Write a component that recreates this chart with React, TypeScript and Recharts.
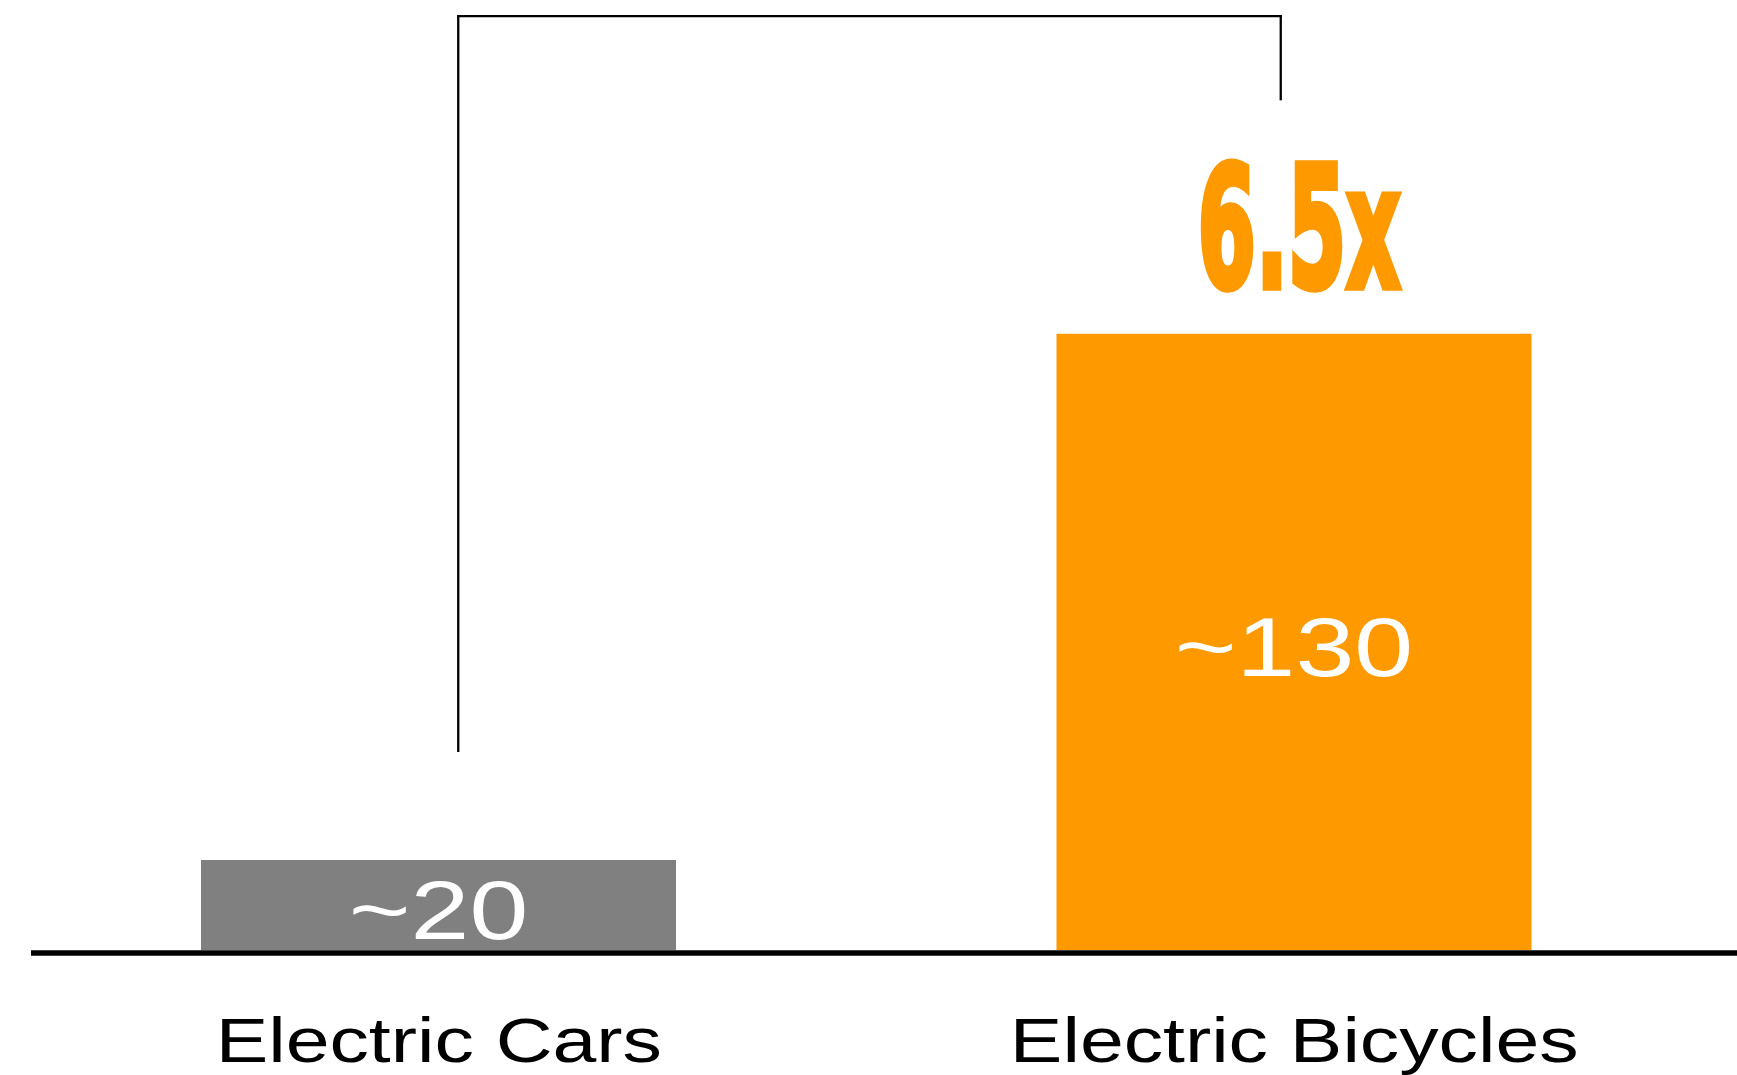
import { BarChart, Bar, XAxis, YAxis, ReferenceLine, LabelList, Cell } from 'recharts';

const categories = ['Electric Cars', 'Electric Bicycles'];
const values = [19, 130];
const valueLabels = ['~20', '~130'];
const multipliers = ['', '6.5x'];
const barColors = ['#808080', '#ff9900'];

// bracket between the two bars, in value-axis units
const bracketLeftBottom = 42;
const bracketTop = 197;
const bracketRightBottom = 179.5;

const data = categories.map((name, i) => ({
  name,
  value: values[i],
  label: valueLabels[i],
  multiple: multipliers[i],
}));

const wideFont = "'Liberation Sans', Arial, sans-serif";

function CategoryTick({ x, y, payload }: any) {
  return (
    <text
      transform={`translate(${x},${Number(y) + 112}) scale(1.25,1)`}
      textAnchor="middle"
      fontFamily={wideFont}
      fontSize={63}
      fill="#000"
    >
      {payload.value}
    </text>
  );
}

function ValueLabel({ x, y, width, height, value }: any) {
  const cx = Number(x) + Number(width) / 2;
  const base = Number(y) + Number(height) / 2 + 34;
  return (
    <text
      transform={`translate(${cx},${base}) scale(1.26,1)`}
      textAnchor="middle"
      fontFamily={wideFont}
      fontSize={84}
      fill="#fff"
    >
      {value}
    </text>
  );
}

function MultipleLabel({ x, y, width, value }: any) {
  if (!value) return null;
  const cx = Number(x) + Number(width) / 2 + 5;
  const base = Number(y) - 47;
  return (
    <text
      transform={`translate(${cx},${base}) scale(0.5,1)`}
      textAnchor="middle"
      fontFamily="'DejaVu Sans', sans-serif"
      fontWeight="bold"
      fontSize={168}
      fill="#ff9900"
      stroke="#ff9900"
      strokeWidth={6}
      strokeLinejoin="miter"
      vectorEffect="non-scaling-stroke"
    >
      {value}
    </text>
  );
}

// draws a reference line shifted sideways by a few pixels
const shifted = (dx1: number, dx2: number, dy = 0, width = 2.3, cap = 'square') => (p: any) => (
  <line
    x1={p.x1 + dx1}
    y1={p.y1 + dy}
    x2={p.x2 + dx2}
    y2={p.y2 + dy}
    stroke="#000"
    strokeWidth={width}
    strokeLinecap={cap as any}
  />
);

export default function App() {
  return (
    <div>
      <style>{'body{margin:0}'}</style>
      <BarChart width={1737} height={1075} data={data} margin={{ top: 2, right: 15, bottom: 0, left: 11 }}>
        <XAxis
          dataKey="name"
          axisLine={false}
          tickLine={false}
          tickSize={0}
          tickMargin={0}
          interval={0}
          height={125}
          tick={<CategoryTick />}
        />
        <YAxis hide domain={[0, 200]} />
        <Bar dataKey="value" barSize={475} isAnimationActive={false}>
          {data.map((d, i) => (
            <Cell key={d.name} fill={barColors[i]} />
          ))}
          <LabelList dataKey="label" content={<ValueLabel />} />
          <LabelList dataKey="multiple" content={<MultipleLabel />} />
        </Bar>
        <ReferenceLine y={0} shape={shifted(20, 15, 3, 5.5, 'butt')} />
        <ReferenceLine
          segment={[{ x: categories[0], y: bracketLeftBottom }, { x: categories[0], y: bracketTop }]}
          shape={shifted(19.5, 19.5)}
        />
        <ReferenceLine
          segment={[{ x: categories[0], y: bracketTop }, { x: categories[1], y: bracketTop }]}
          shape={shifted(19.5, -13.5)}
        />
        <ReferenceLine
          segment={[{ x: categories[1], y: bracketTop }, { x: categories[1], y: bracketRightBottom }]}
          shape={shifted(-13.5, -13.5)}
        />
      </BarChart>
    </div>
  );
}
